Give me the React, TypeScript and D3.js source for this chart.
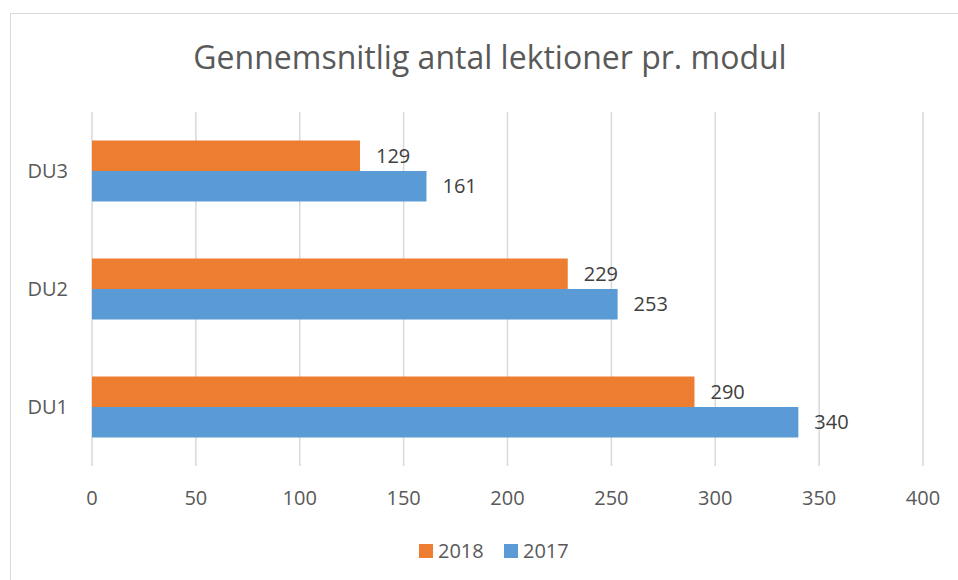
import React, { useEffect, useRef } from 'react';
import * as d3 from 'd3';

const categories = ['DU3', 'DU2', 'DU1'];
const seriesNames = ['2018', '2017'];
const values2018 = [129, 229, 290];
const values2017 = [161, 253, 340];
const xTicks = [0, 50, 100, 150, 200, 250, 300, 350, 400];

const width = 958;
const height = 580;
const margin = { top: 112, left: 92, bottom: 114, right: 35 };
const colors = ['#ED7D31', '#5B9BD5'];
const font = '"Open Sans", "Liberation Sans", sans-serif';
const textColor = '#595959';

const App = () => {
  const ref = useRef<SVGSVGElement>(null);

  useEffect(() => {
    const svg = d3.select(ref.current);
    svg.selectAll('*').remove();

    const x = d3.scaleLinear().domain([0, 400]).range([margin.left, width - margin.right]);
    const y = d3.scaleBand()
      .domain(categories)
      .range([margin.top, height - margin.bottom])
      .paddingInner(0.483)
      .paddingOuter(0.2415);
    const ySub = d3.scaleBand().domain(seriesNames).range([0, y.bandwidth()]);

    // frame
    svg.append('rect')
      .attr('x', 10.5).attr('y', 13.5)
      .attr('width', width + 10).attr('height', height + 10)
      .attr('fill', 'white')
      .attr('stroke', '#D9D9D9');

    svg.append('text')
      .attr('x', 490).attr('y', 58)
      .attr('dy', '0.35em')
      .attr('text-anchor', 'middle')
      .attr('font-family', font)
      .attr('font-size', 32)
      .attr('fill', textColor)
      .text('Gennemsnitlig antal lektioner pr. modul');

    // grid
    svg.append('g')
      .selectAll('line')
      .data(xTicks)
      .join('line')
      .attr('x1', d => x(d)).attr('x2', d => x(d))
      .attr('y1', margin.top).attr('y2', height - margin.bottom)
      .attr('stroke', '#D9D9D9')
      .attr('stroke-width', 1.5);

    svg.append('g')
      .selectAll('text')
      .data(xTicks)
      .join('text')
      .attr('x', d => x(d))
      .attr('y', 498)
      .attr('dy', '0.35em')
      .attr('text-anchor', 'middle')
      .attr('font-family', font)
      .attr('font-size', 20)
      .attr('fill', textColor)
      .text(d => d);

    svg.append('g')
      .selectAll('text')
      .data(categories)
      .join('text')
      .attr('x', margin.left - 24)
      .attr('y', d => y(d)! + y.bandwidth() / 2)
      .attr('dy', '0.35em')
      .attr('text-anchor', 'end')
      .attr('font-family', font)
      .attr('font-size', 20)
      .attr('fill', textColor)
      .text(d => d);

    const rows = categories.flatMap((c, i) => [
      { cat: c, s: '2018', v: values2018[i], color: colors[0] },
      { cat: c, s: '2017', v: values2017[i], color: colors[1] },
    ]);

    svg.append('g')
      .selectAll('rect')
      .data(rows)
      .join('rect')
      .attr('x', x(0))
      .attr('y', d => y(d.cat)! + ySub(d.s)!)
      .attr('width', d => x(d.v) - x(0))
      .attr('height', ySub.bandwidth())
      .attr('fill', d => d.color);

    svg.append('g')
      .selectAll('text')
      .data(rows)
      .join('text')
      .attr('x', d => x(d.v) + 16)
      .attr('y', d => y(d.cat)! + ySub(d.s)! + ySub.bandwidth() / 2)
      .attr('dy', '0.35em')
      .attr('font-family', font)
      .attr('font-size', 20)
      .attr('fill', '#404040')
      .text(d => d.v);

    // legend
    const legend = svg.append('g');
    const lx = [419, 504];
    seriesNames.forEach((s, i) => {
      legend.append('rect')
        .attr('x', lx[i]).attr('y', 544)
        .attr('width', 14).attr('height', 14)
        .attr('fill', colors[i]);
      legend.append('text')
        .attr('x', lx[i] + 19).attr('y', 551)
        .attr('dy', '0.35em')
        .attr('font-family', font)
        .attr('font-size', 20)
        .attr('fill', textColor)
        .text(s);
    });
  }, []);

  return (
    <svg ref={ref} width={width} height={height}
      style={{ position: 'absolute', left: 0, top: 0 }} />
  );
};

export default App;
